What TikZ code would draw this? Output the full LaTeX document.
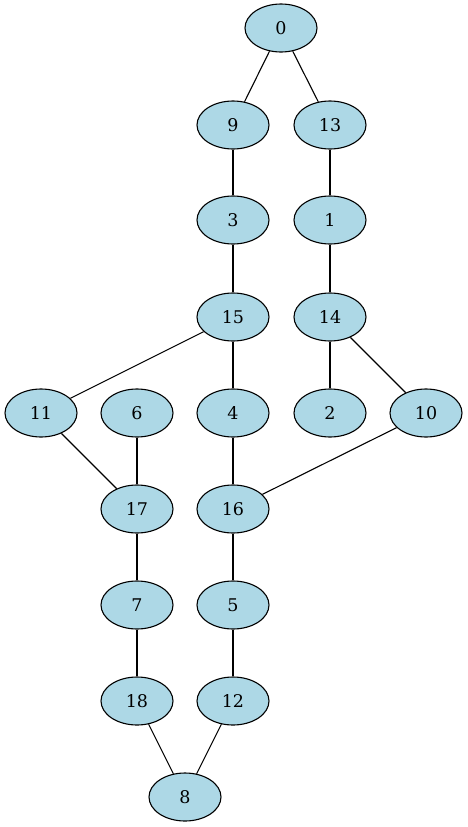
\documentclass[tikz,border=0pt]{standalone}
\usepackage{fontspec}
\setmainfont{DejaVu Serif}
\usetikzlibrary{shapes.geometric}
\definecolor{nodefill}{HTML}{ADD8E6}
\tikzset{
  gnode/.style={ellipse, draw=black, line width=1.1pt, fill=nodefill,
    minimum width=72pt, minimum height=48pt, inner sep=0pt,
    font=\fontsize{17.5}{21}\selectfont},
  gedge/.style={draw=black, line width=1.1pt}
}
\begin{document}
\begin{tikzpicture}[x=1pt,y=-1pt]
\useasboundingbox (0,0) rectangle (467,827);
\node[gnode] (n0) at (281,28) {0};
\node[gnode] (n9) at (233,125) {9};
\node[gnode] (n13) at (330,125) {13};
\node[gnode] (n3) at (233,220) {3};
\node[gnode] (n1) at (330,220) {1};
\node[gnode] (n15) at (233,317) {15};
\node[gnode] (n14) at (330,317) {14};
\node[gnode] (n11) at (41,413) {11};
\node[gnode] (n6) at (137,413) {6};
\node[gnode] (n4) at (233,413) {4};
\node[gnode] (n2) at (330,413) {2};
\node[gnode] (n10) at (426,413) {10};
\node[gnode] (n17) at (137,509) {17};
\node[gnode] (n16) at (233,509) {16};
\node[gnode] (n7) at (137,605) {7};
\node[gnode] (n5) at (233,605) {5};
\node[gnode] (n18) at (137,701) {18};
\node[gnode] (n12) at (233,701) {12};
\node[gnode] (n8) at (185,797) {8};
\path[gedge] (n0) -- (n9);
\path[gedge] (n0) -- (n13);
\path[gedge] (n9) -- (n3);
\path[gedge] (n13) -- (n1);
\path[gedge] (n3) -- (n15);
\path[gedge] (n1) -- (n14);
\path[gedge] (n15) -- (n11);
\path[gedge] (n15) -- (n4);
\path[gedge] (n14) -- (n2);
\path[gedge] (n14) -- (n10);
\path[gedge] (n11) -- (n17);
\path[gedge] (n6) -- (n17);
\path[gedge] (n4) -- (n16);
\path[gedge] (n10) -- (n16);
\path[gedge] (n17) -- (n7);
\path[gedge] (n16) -- (n5);
\path[gedge] (n7) -- (n18);
\path[gedge] (n5) -- (n12);
\path[gedge] (n18) -- (n8);
\path[gedge] (n12) -- (n8);
\end{tikzpicture}
\end{document}
